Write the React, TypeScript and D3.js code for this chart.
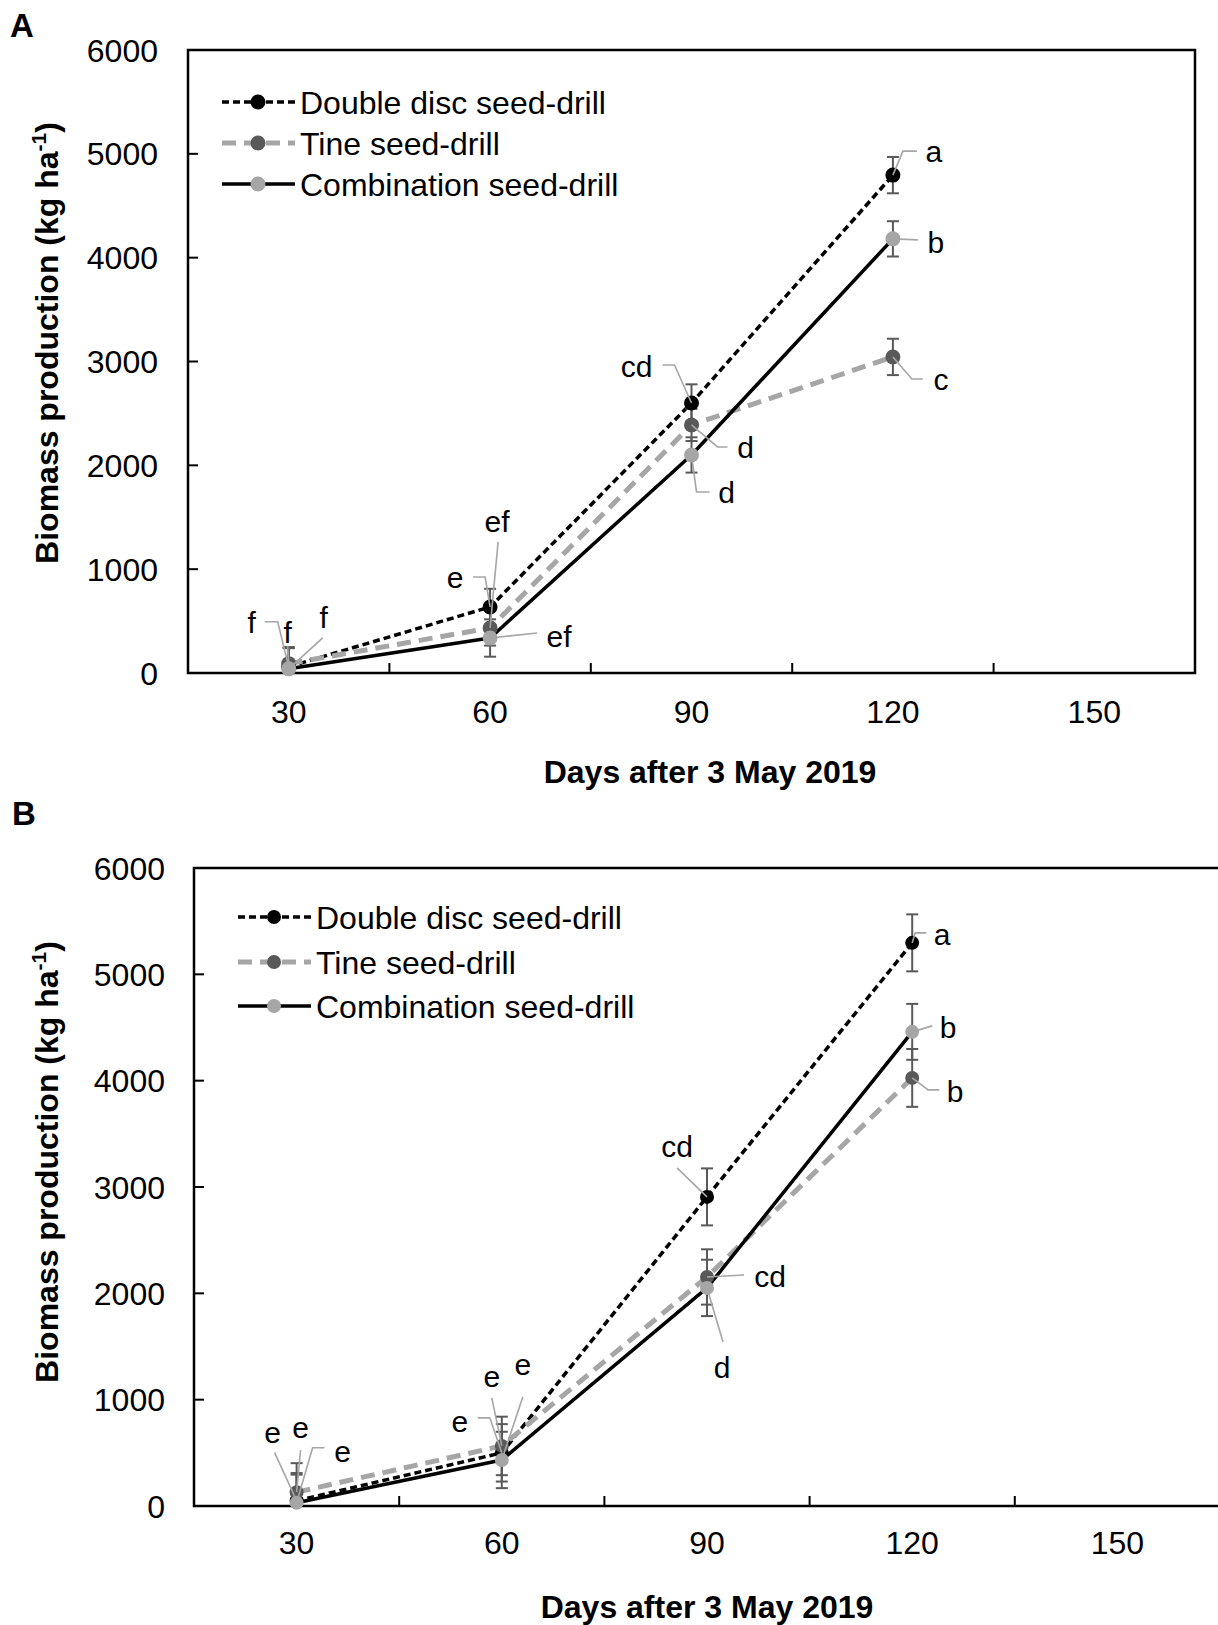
import { useEffect, useRef } from "react";
import * as d3 from "d3";

const days = ["30", "60", "90", "120", "150"];
const seriesNames = ["Double disc seed-drill", "Tine seed-drill", "Combination seed-drill"];
const yTicks = [0, 1000, 2000, 3000, 4000, 5000, 6000];

// panel A values (kg/ha)
const doubleDiscA = [60, 636, 2600, 4795];
const tineA = [90, 434, 2389, 3044];
const combinationA = [40, 337, 2100, 4181];
const doubleDiscErrA = [190, 175, 180, 175];
const tineErrA = [150, 170, 155, 175];
const combinationErrA = [200, 180, 170, 170];
const doubleDiscLettersA = ["f", "e", "cd", "a"];
const tineLettersA = ["f", "ef", "d", "c"];
const combinationLettersA = ["f", "ef", "d", "b"];

// panel B values (kg/ha)
const doubleDiscB = [50, 500, 2907, 5296];
const tineB = [130, 565, 2154, 4026];
const combinationB = [30, 433, 2051, 4459];
const doubleDiscErrB = [260, 270, 268, 268];
const tineErrB = [273, 275, 260, 272];
const combinationErrB = [265, 265, 265, 263];
const doubleDiscLettersB = ["e", "e", "cd", "a"];
const tineLettersB = ["e", "e", "cd", "b"];
const combinationLettersB = ["e", "e", "d", "b"];

// label placement (text offset from point, leader polyline offsets)
const labelPosA = [
  [
    { dx: -37, dy: -34, path: [[-24, -45], [-11, -45], [0, 0]] },
    { dx: -35, dy: -19, path: [[-17, -30], [-5, -30], [0, 0]] },
    { dx: -55, dy: -26, path: [[-29, -38], [-17, -38], [0, 0]] },
    { dx: 41, dy: -13, path: [[0, 0], [10, -24], [24, -24]] },
  ],
  [
    { dx: -1, dy: -21, path: [[-1, -18], [0, 0]] },
    { dx: 7, dy: -96, path: [[8, -86], [0, 0]] },
    { dx: 54, dy: 33, path: [[0, 0], [26, 22], [36, 22]] },
    { dx: 48, dy: 33, path: [[0, 0], [19, 22], [30, 22]] },
  ],
  [
    { dx: 35, dy: -41, path: [[34, -31], [0, 0]] },
    { dx: 69, dy: 9, path: [[47, -5], [0, 0]] },
    { dx: 35, dy: 48, path: [[0, 0], [5, 37], [18, 37]] },
    { dx: 43, dy: 14, path: [[0, 0], [25, 1]] },
  ],
];
const labelPosB = [
  [
    { dx: -24, dy: -58, path: [[-22, -48], [0, 0]] },
    { dx: -42, dy: -21, path: [[-24, -35], [-12, -35], [0, 0]] },
    { dx: -30, dy: -40, path: [[-30, -29], [0, 0]] },
    { dx: 30, dy: 2, path: [[0, 0], [3, -10], [14, -10]] },
  ],
  [
    { dx: 4, dy: -54, path: [[4, -42], [0, 0]] },
    { dx: -10, dy: -59, path: [[-10, -48], [0, 0]] },
    { dx: 63, dy: 10, path: [[0, 0], [37, -2]] },
    { dx: 43, dy: 24, path: [[0, 0], [16, 12], [27, 12]] },
  ],
  [
    { dx: 46, dy: -41, path: [[28, -55], [16, -55], [0, 0]] },
    { dx: 21, dy: -85, path: [[21, -63], [0, 0]] },
    { dx: 15, dy: 90, path: [[0, 0], [16, 54]] },
    { dx: 36, dy: 6, path: [[0, 0], [20, -6]] },
  ],
];

const styles = [
  { stroke: "#000", width: 3.5, dash: "7,4", marker: "#000" },
  { stroke: "#a6a6a6", width: 5, dash: "14,8", marker: "#595959" },
  { stroke: "#000", width: 3.5, dash: null, marker: "#a6a6a6" },
];

const font = "'Liberation Sans', Arial, sans-serif";

const panels = [
  {
    letter: "A", letterX: 10, letterY: 37,
    left: 188, top: 50, right: 1195, bottom: 673,
    values: [doubleDiscA, tineA, combinationA],
    errs: [doubleDiscErrA, tineErrA, combinationErrA],
    letters: [doubleDiscLettersA, tineLettersA, combinationLettersA],
    labelPos: labelPosA,
    yLabelRight: 158, xLabelY: 723, xTitleX: 710, xTitleY: 783,
    yTitleX: 47, yTitleY: 343,
    legendX: 222, legendY: [102, 143, 184], r: 7.5,
  },
  {
    letter: "B", letterX: 12, letterY: 825,
    left: 194, top: 868, right: 1220, bottom: 1506,
    values: [doubleDiscB, tineB, combinationB],
    errs: [doubleDiscErrB, tineErrB, combinationErrB],
    letters: [doubleDiscLettersB, tineLettersB, combinationLettersB],
    labelPos: labelPosB,
    yLabelRight: 165, xLabelY: 1554, xTitleX: 707, xTitleY: 1618,
    yTitleX: 47, yTitleY: 1162,
    legendX: 238, legendY: [917, 962, 1006], r: 7,
  },
];

export default function App() {
  const svgRef = useRef<SVGSVGElement>(null);

  useEffect(() => {
    const svg = d3.select(svgRef.current);
    svg.selectAll("*").remove();

    panels.forEach((p) => {
      const g = svg.append("g").attr("font-family", font);
      const x = d3.scaleBand().domain(days).range([p.left, p.right]).padding(0);
      const y = d3.scaleLinear().domain([0, 6000]).range([p.bottom, p.top]);
      const cx = (i: number) => (x(days[i]) as number) + x.bandwidth() / 2;

      // frame
      g.append("rect")
        .attr("x", p.left).attr("y", p.top)
        .attr("width", p.right - p.left).attr("height", p.bottom - p.top)
        .attr("fill", "none").attr("stroke", "#000").attr("stroke-width", 2.5);

      // y ticks (inside) + labels
      yTicks.forEach((t) => {
        if (t > 0 && t < 6000) {
          g.append("line")
            .attr("x1", p.left).attr("x2", p.left + 10)
            .attr("y1", y(t)).attr("y2", y(t))
            .attr("stroke", "#000").attr("stroke-width", 2);
        }
        g.append("text")
          .attr("x", p.yLabelRight).attr("y", y(t)).attr("dy", "0.36em")
          .attr("text-anchor", "end").attr("font-size", 32)
          .text(t);
      });

      // x ticks at category boundaries + labels
      days.forEach((d, i) => {
        if (i > 0) {
          const bx = x(d) as number;
          g.append("line")
            .attr("x1", bx).attr("x2", bx)
            .attr("y1", p.bottom).attr("y2", p.bottom - 10)
            .attr("stroke", "#000").attr("stroke-width", 2);
        }
        g.append("text")
          .attr("x", cx(i)).attr("y", p.xLabelY)
          .attr("text-anchor", "middle").attr("font-size", 32)
          .text(d);
      });

      // titles
      g.append("text")
        .attr("x", p.xTitleX).attr("y", p.xTitleY)
        .attr("text-anchor", "middle").attr("font-size", 32).attr("font-weight", "bold")
        .text("Days after 3 May 2019");

      const yt = g.append("text")
        .attr("transform", `translate(${p.yTitleX},${p.yTitleY}) rotate(-90)`)
        .attr("y", 11)
        .attr("text-anchor", "middle").attr("font-size", 32).attr("font-weight", "bold");
      yt.append("tspan").text("Biomass production (kg ha");
      yt.append("tspan").attr("dy", -12).attr("font-size", 21).text("-1");
      yt.append("tspan").attr("dy", 12).text(")");

      g.append("text")
        .attr("x", p.letterX).attr("y", p.letterY)
        .attr("font-size", 33).attr("font-weight", "bold")
        .text(p.letter);

      // series lines
      const line = d3.line<number>().x((_, i) => cx(i)).y((v) => y(v));
      p.values.forEach((vals, s) => {
        g.append("path")
          .attr("d", line(vals))
          .attr("fill", "none")
          .attr("stroke", styles[s].stroke)
          .attr("stroke-width", styles[s].width)
          .attr("stroke-dasharray", styles[s].dash)
          .attr("stroke-linejoin", "round");
      });

      // error bars (clipped at zero like the original)
      p.values.forEach((vals, s) => {
        vals.forEach((v, i) => {
          const e = p.errs[s][i];
          const xx = cx(i);
          const lo = Math.max(0, v - e);
          const eg = g.append("g").attr("stroke", "#595959").attr("stroke-width", 2);
          eg.append("line").attr("x1", xx).attr("x2", xx).attr("y1", y(lo)).attr("y2", y(v + e));
          eg.append("line").attr("x1", xx - 6).attr("x2", xx + 6).attr("y1", y(v + e)).attr("y2", y(v + e));
          if (v - e > 0) {
            eg.append("line").attr("x1", xx - 6).attr("x2", xx + 6).attr("y1", y(lo)).attr("y2", y(lo));
          }
        });
      });

      // markers
      p.values.forEach((vals, s) => {
        g.selectAll(null)
          .data(vals)
          .enter()
          .append("circle")
          .attr("cx", (_, i) => cx(i))
          .attr("cy", (v) => y(v))
          .attr("r", p.r)
          .attr("fill", styles[s].marker);
      });

      // letters with leader lines
      p.values.forEach((vals, s) => {
        vals.forEach((v, i) => {
          const lp = p.labelPos[s][i];
          const px = cx(i);
          const py = y(v);
          g.append("path")
            .attr("d", d3.line()(lp.path.map(([a, b]) => [px + a, py + b]) as [number, number][]))
            .attr("fill", "none").attr("stroke", "#a6a6a6").attr("stroke-width", 1.6);
          g.append("text")
            .attr("x", px + lp.dx).attr("y", py + lp.dy)
            .attr("text-anchor", "middle").attr("font-size", 30)
            .text(p.letters[s][i]);
        });
      });

      // legend
      seriesNames.forEach((name, s) => {
        const ly = p.legendY[s];
        g.append("line")
          .attr("x1", p.legendX).attr("x2", p.legendX + 73)
          .attr("y1", ly).attr("y2", ly)
          .attr("stroke", styles[s].stroke)
          .attr("stroke-width", styles[s].width)
          .attr("stroke-dasharray", styles[s].dash);
        g.append("circle")
          .attr("cx", p.legendX + 36).attr("cy", ly).attr("r", p.r)
          .attr("fill", styles[s].marker);
        g.append("text")
          .attr("x", p.legendX + 78).attr("y", ly).attr("dy", "0.36em")
          .attr("font-size", 32)
          .text(name);
      });
    });
  }, []);

  return (
    <svg
      ref={svgRef}
      width={1218}
      height={1625}
      style={{ position: "absolute", left: 0, top: 0, background: "#fff" }}
    />
  );
}
